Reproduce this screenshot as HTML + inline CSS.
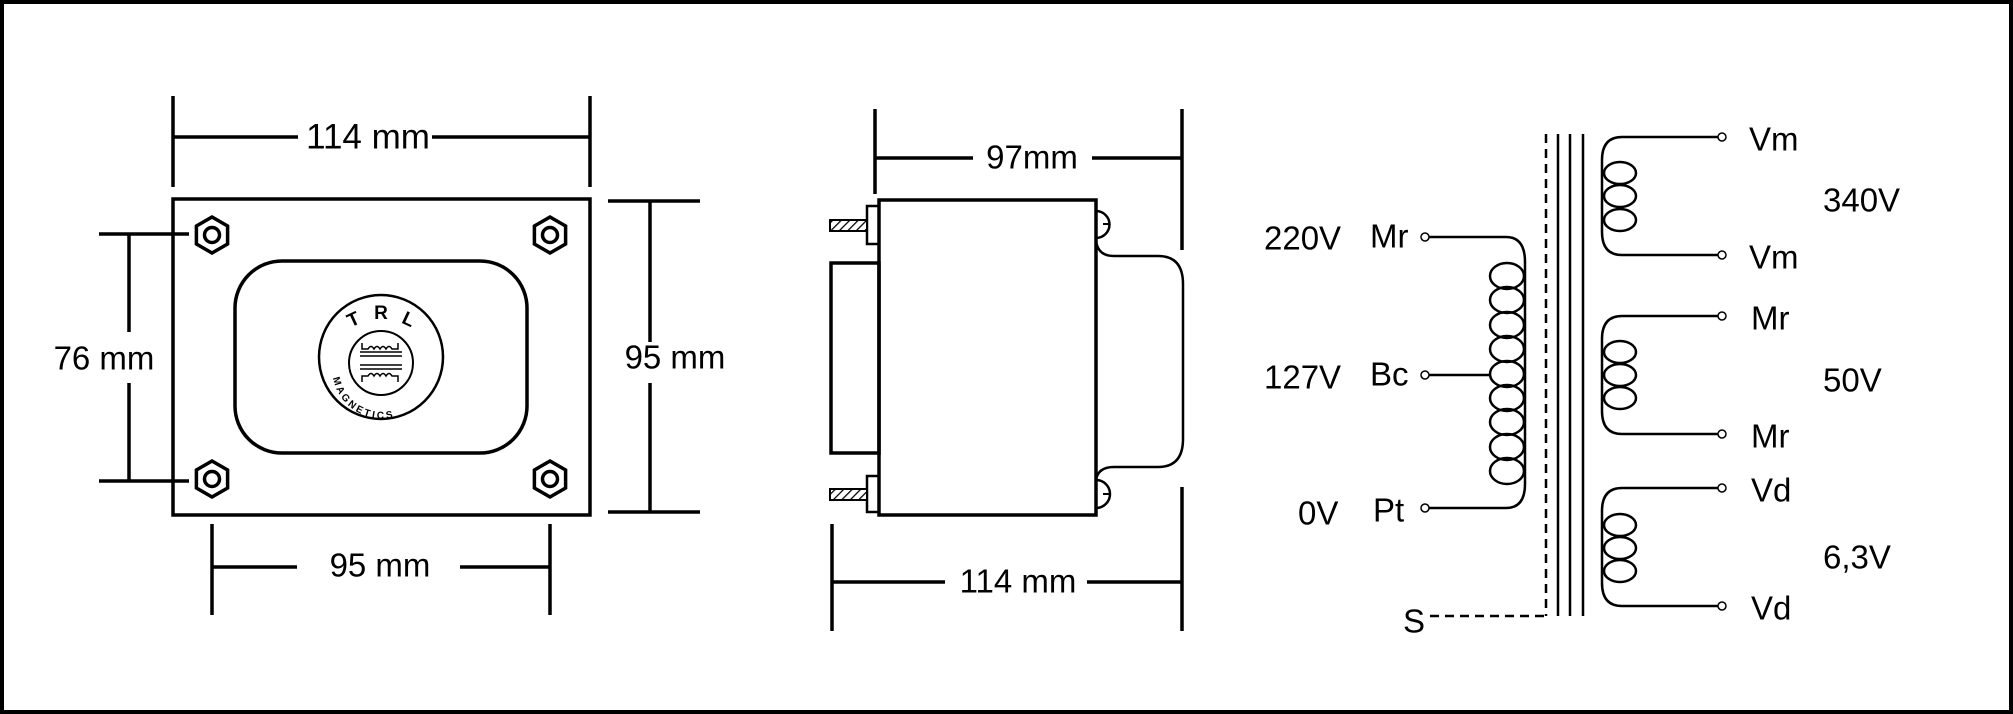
<!DOCTYPE html>
<html><head><style>
html,body{margin:0;padding:0;background:#fff}
svg{display:block}
text{font-family:"Liberation Sans",Arial,sans-serif;fill:#000}
</style></head><body>
<svg width="2013" height="714" viewBox="0 0 2013 714" xmlns="http://www.w3.org/2000/svg">
<defs>
<pattern id="hatch" width="6" height="6" patternUnits="userSpaceOnUse" patternTransform="rotate(45)">
<rect width="6" height="6" fill="#fff"/><line x1="0" y1="0" x2="0" y2="6" stroke="#000" stroke-width="2.5"/>
</pattern>
</defs>
<rect x="2" y="2" width="2009" height="710" fill="#fff" stroke="#000" stroke-width="4"/>
<g stroke="#000" stroke-width="3.5" fill="none">
<rect x="173" y="199" width="417" height="316"/>
<rect x="235" y="261" width="292" height="192" rx="47" ry="47"/>
<line x1="173" y1="96" x2="173" y2="187"/><line x1="590" y1="96" x2="590" y2="187"/>
<line x1="173" y1="137" x2="298" y2="137"/><line x1="432" y1="137" x2="590" y2="137"/>
<line x1="99" y1="234" x2="189" y2="234"/><line x1="99" y1="481" x2="189" y2="481"/>
<line x1="129" y1="234" x2="129" y2="332"/><line x1="129" y1="383" x2="129" y2="481"/>
<line x1="608" y1="201" x2="700" y2="201"/><line x1="608" y1="512" x2="700" y2="512"/>
<line x1="650" y1="201" x2="650" y2="342"/><line x1="650" y1="383" x2="650" y2="512"/>
<line x1="212" y1="524" x2="212" y2="615"/><line x1="550" y1="524" x2="550" y2="615"/>
<line x1="212" y1="567" x2="297" y2="567"/><line x1="460" y1="567" x2="550" y2="567"/>
<g transform="translate(212,235)"><polygon points="0,-18 15.6,-9 15.6,9 0,18 -15.6,9 -15.6,-9"/><circle r="7.5"/></g>
<g transform="translate(550,235)"><polygon points="0,-18 15.6,-9 15.6,9 0,18 -15.6,9 -15.6,-9"/><circle r="7.5"/></g>
<g transform="translate(212,479)"><polygon points="0,-18 15.6,-9 15.6,9 0,18 -15.6,9 -15.6,-9"/><circle r="7.5"/></g>
<g transform="translate(550,479)"><polygon points="0,-18 15.6,-9 15.6,9 0,18 -15.6,9 -15.6,-9"/><circle r="7.5"/></g>
<circle cx="381" cy="357" r="62" stroke-width="2.5"/>
<circle cx="381" cy="363" r="32" stroke-width="2"/>
<g stroke-width="1.5">
<line x1="360" y1="352" x2="402" y2="352"/><line x1="360" y1="356" x2="402" y2="356"/>
<line x1="360" y1="365" x2="402" y2="365"/><line x1="360" y1="369" x2="402" y2="369"/>
<path d="M362 343 v6 h6 q3-5 6 0 q3-5 6 0 q3-5 6 0 q3-5 6 0 h6 v-6"/>
<path d="M362 382 v-6 h6 q3-5 6 0 q3-5 6 0 q3-5 6 0 q3-5 6 0 h6 v6"/>
</g>
<rect x="879" y="200" width="217" height="315"/>
<rect x="831" y="263" width="48" height="190"/>
<rect x="867" y="206" width="12" height="38" stroke-width="2.5"/>
<rect x="867" y="476" width="12" height="36" stroke-width="2.5"/>
<rect x="830" y="220" width="37" height="11" fill="url(#hatch)" stroke-width="2"/>
<rect x="830" y="489" width="37" height="11" fill="url(#hatch)" stroke-width="2"/>
<path d="M1096 211 a13 13 0 0 1 0 27" stroke-width="2.5"/>
<path d="M1096 480 a14 14 0 0 1 0 28" stroke-width="2.5"/>
<path d="M1103 224 h7 M1103 494 h7" stroke-width="2"/>
<path d="M1096 241 q2 15 18 15 h44 q25 0 25 28 v155 q0 28 -25 28 h-44 q-16 0 -18 13" stroke-width="2.5"/>
<line x1="875" y1="109" x2="875" y2="194"/><line x1="1182" y1="109" x2="1182" y2="250"/>
<line x1="875" y1="158" x2="973" y2="158"/><line x1="1092" y1="158" x2="1182" y2="158"/>
<line x1="832" y1="524" x2="832" y2="631"/><line x1="1182" y1="487" x2="1182" y2="631"/>
<line x1="832" y1="582" x2="945" y2="582"/><line x1="1087" y1="582" x2="1182" y2="582"/>
<line x1="1546" y1="134" x2="1546" y2="616" stroke-dasharray="9 6" stroke-width="2.5"/>
<line x1="1430" y1="616" x2="1546" y2="616" stroke-dasharray="9 6" stroke-width="2.5"/>
<line x1="1558" y1="134" x2="1558" y2="616" stroke-width="2.5"/>
<line x1="1570" y1="134" x2="1570" y2="616" stroke-width="2.5"/>
<line x1="1583" y1="134" x2="1583" y2="616" stroke-width="2.5"/>
<g stroke-width="2.5">
<path d="M1429 237 H1506 Q1525 237 1525 262 V484 Q1525 508 1506 508 H1429"/>
<line x1="1429" y1="375" x2="1491" y2="375"/>
<ellipse cx="1507" cy="276" rx="17" ry="13"/><ellipse cx="1507" cy="300" rx="17" ry="13"/>
<ellipse cx="1507" cy="325" rx="17" ry="13"/><ellipse cx="1507" cy="349" rx="17" ry="13"/>
<ellipse cx="1507" cy="374" rx="17" ry="13"/><ellipse cx="1507" cy="398" rx="17" ry="13"/>
<ellipse cx="1507" cy="422" rx="17" ry="13"/><ellipse cx="1507" cy="447" rx="17" ry="13"/>
<ellipse cx="1507" cy="471" rx="17" ry="13"/>
<circle cx="1425" cy="237" r="4" stroke-width="1.5" fill="#fff"/>
<circle cx="1425" cy="375" r="4" stroke-width="1.5" fill="#fff"/>
<circle cx="1425" cy="508" r="4" stroke-width="1.5" fill="#fff"/>
<path d="M1718 137 H1622 Q1602 137 1602 160 V232 Q1602 255 1622 255 H1718"/>
<ellipse cx="1620" cy="173" rx="16" ry="11"/><ellipse cx="1620" cy="196" rx="16" ry="11"/><ellipse cx="1620" cy="220" rx="16" ry="11"/>
<path d="M1718 316 H1622 Q1602 316 1602 339 V411 Q1602 434 1622 434 H1718"/>
<ellipse cx="1620" cy="352" rx="16" ry="11"/><ellipse cx="1620" cy="375" rx="16" ry="11"/><ellipse cx="1620" cy="398" rx="16" ry="11"/>
<path d="M1718 488 H1622 Q1602 488 1602 511 V583 Q1602 606 1622 606 H1718"/>
<ellipse cx="1620" cy="525" rx="16" ry="11"/><ellipse cx="1620" cy="548" rx="16" ry="11"/><ellipse cx="1620" cy="571" rx="16" ry="11"/>
</g>
<g stroke-width="1.5" fill="#fff">
<circle cx="1722" cy="137" r="4"/><circle cx="1722" cy="255" r="4"/>
<circle cx="1722" cy="316" r="4"/><circle cx="1722" cy="434" r="4"/>
<circle cx="1722" cy="488" r="4"/><circle cx="1722" cy="606" r="4"/>
</g>
</g>
<g font-size="33" text-anchor="middle" dominant-baseline="central">
<text x="368" y="137" font-size="35">114 mm</text>
<text x="104" y="358">76 mm</text>
<text x="675" y="357">95 mm</text>
<text x="380" y="565">95 mm</text>
<text x="1032" y="157">97mm</text>
<text x="1018" y="581">114 mm</text>
</g>
<g font-size="33" dominant-baseline="central">
<text x="1264" y="238">220V</text><text x="1370" y="236">Mr</text>
<text x="1264" y="377">127V</text><text x="1370" y="374">Bc</text>
<text x="1298" y="513">0V</text><text x="1373" y="510">Pt</text>
<text x="1403" y="621">S</text>
<text x="1749" y="139">Vm</text><text x="1749" y="257">Vm</text>
<text x="1751" y="318">Mr</text><text x="1751" y="436">Mr</text>
<text x="1751" y="490">Vd</text><text x="1751" y="608">Vd</text>
<text x="1823" y="200">340V</text>
<text x="1823" y="380">50V</text>
<text x="1823" y="557">6,3V</text>
</g>
<g font-weight="bold" font-size="19" text-anchor="middle">
<text x="356" y="325" transform="rotate(-25 356 325)">T</text>
<text x="381" y="319">R</text>
<text x="406" y="325" transform="rotate(25 406 325)">L</text>
</g>
<path id="arc" d="M333 378 A50 50 0 0 0 432 372" fill="none"/>
<text font-size="10" font-weight="bold" letter-spacing="2.5"><textPath href="#arc">MAGNETICS</textPath></text>
</svg>
</body></html>
